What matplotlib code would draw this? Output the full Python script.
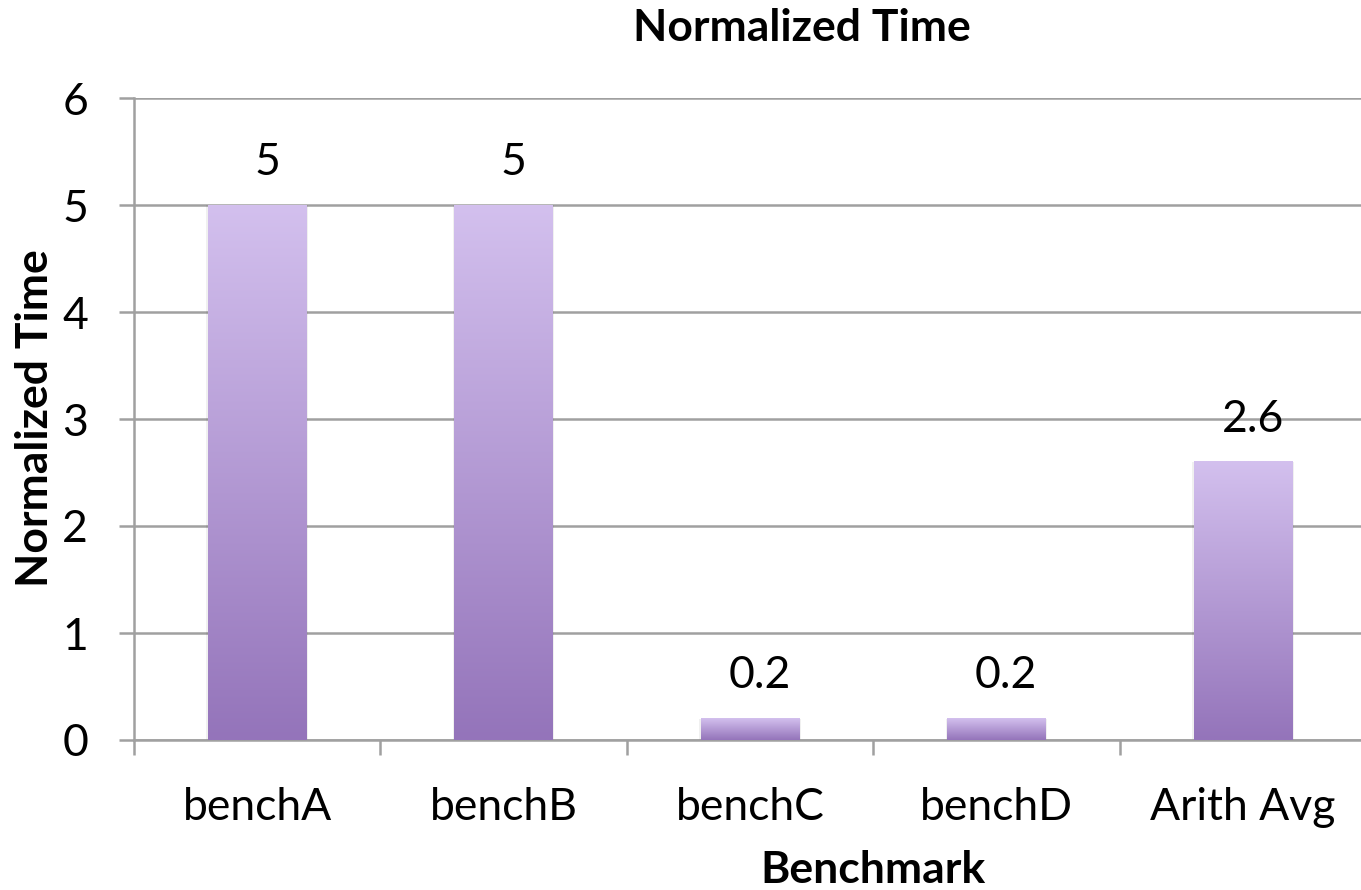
import numpy as np
import matplotlib.pyplot as plt
from matplotlib.colors import LinearSegmentedColormap

benchmarks = ["benchA", "benchB", "benchC", "benchD", "Arith Avg"]
norm_time = [5, 5, 0.2, 0.2, 2.6]
value_labels = ["5", "5", "0.2", "0.2", "2.6"]

plt.rcParams["font.family"] = ["Lato", "DejaVu Sans"]

fig = plt.figure(figsize=(13.61, 8.90), dpi=100)
ax = fig.add_axes([134 / 1361, 150 / 890, 1232 / 1361, 642 / 890])

grey = "#a0a0a0"
cmap = LinearSegmentedColormap.from_list("purp", ["#9474ba", "#d3c0ee"])
grad = np.linspace(0, 1, 256).reshape(-1, 1)

x = np.arange(len(benchmarks))
bars = ax.bar(x, norm_time, width=0.40, color="none", edgecolor="none", zorder=3)
for b in bars:
    x0, w, h = b.get_x(), b.get_width(), b.get_height()
    # faint shadow
    ax.bar(x0 + w / 2, h, width=w * 1.03, color="#000000", alpha=0.06, zorder=2)
    ax.imshow(grad, extent=(x0, x0 + w, 0, h), origin="lower", cmap=cmap,
              aspect="auto", zorder=3)

for xi, v, lab in zip(x, norm_time, value_labels):
    ax.text(xi + 0.04, v + 0.4, lab, ha="center", va="center", fontsize=32, color="black")

ax.set_xlim(-0.5, len(benchmarks) - 0.5)
ax.set_ylim(0, 6)
ax.set_yticks(range(0, 7))
ax.yaxis.grid(True, color=grey, linewidth=1.8, zorder=0)
ax.set_axisbelow(True)

ax.set_xticks(x)
ax.set_xticklabels(benchmarks)
ax.set_xticks(np.arange(-0.5, len(benchmarks)), minor=True)
ax.tick_params(axis="x", which="major", length=0, pad=34, labelsize=32)
ax.tick_params(axis="x", which="minor", length=11, width=1.8, color=grey, direction="out")
ax.tick_params(axis="y", length=11, width=1.8, color=grey, pad=22, labelsize=32)

for s in ["top", "right"]:
    ax.spines[s].set_visible(False)
for s in ["left", "bottom"]:
    ax.spines[s].set_color(grey)
    ax.spines[s].set_linewidth(1.8)

ax.set_xlabel("Benchmark", fontsize=32, fontweight="bold")
ax.xaxis.label.set_va("center")
ax.xaxis.set_label_coords((873 - 134) / 1232, (740 - 870) / 642)
ax.set_ylabel("Normalized Time", fontsize=32, fontweight="bold")
ax.yaxis.label.set_va("center")
ax.yaxis.set_label_coords((35 - 134) / 1232, (740 - 418) / 642)
fig.text(802 / 1361, 1 - 28 / 890, "Normalized Time", ha="center", va="center",
         fontsize=32, fontweight="bold")

fig.savefig("out.png", dpi=100)
